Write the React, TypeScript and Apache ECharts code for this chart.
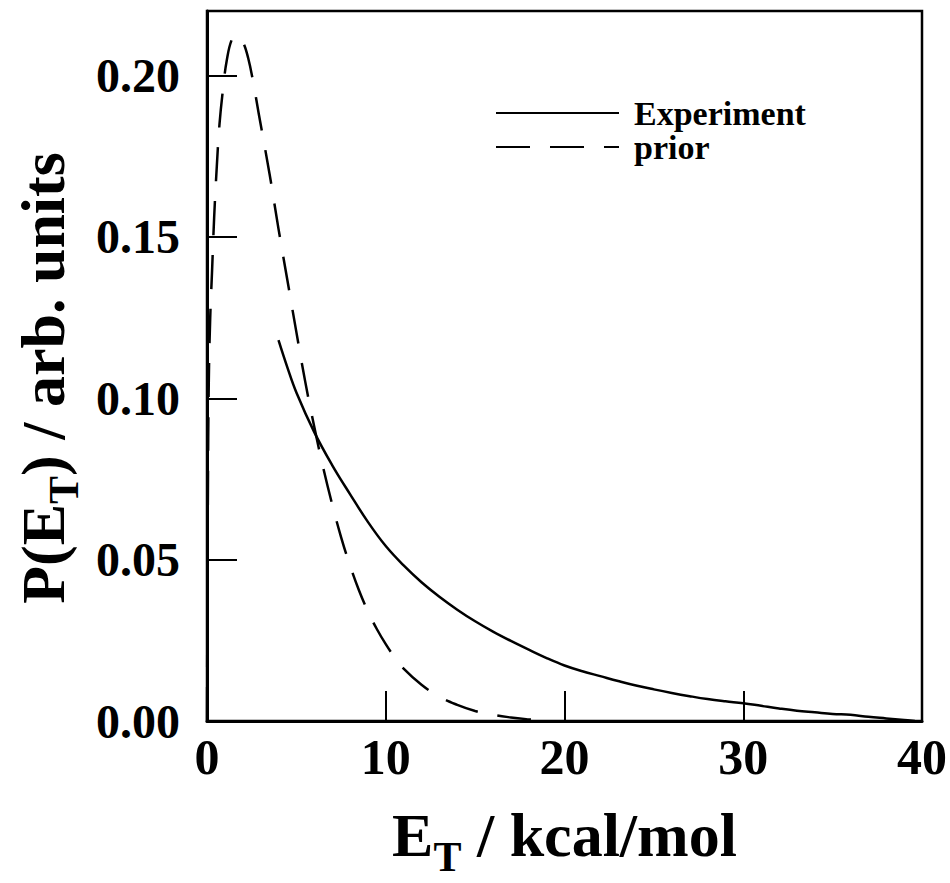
import React, { useEffect, useRef } from "react";
import * as echarts from "echarts";

// Experiment (solid curve)
const EXPERIMENT_X = [4.0, 4.5, 5.0, 6.0, 7.0, 8.0, 9.0, 10.0, 11.0, 12.0, 13.0, 14.0, 15.0, 16.0, 17.0, 18.0, 19.0, 20.0, 21.0, 22.0, 23.0, 24.0, 25.0, 26.0, 27.0, 28.0, 29.0, 30.0, 31.0, 32.0, 33.0, 34.0, 35.0, 36.0, 37.0, 38.0, 39.0, 39.6];
const EXPERIMENT_Y = [0.118, 0.1095, 0.1018, 0.0895, 0.0793, 0.0703, 0.0617, 0.0542, 0.0482, 0.043, 0.0385, 0.0345, 0.0309, 0.0277, 0.0248, 0.0221, 0.0195, 0.0172, 0.0154, 0.0139, 0.0124, 0.011, 0.0098, 0.0087, 0.0077, 0.0068, 0.0061, 0.0055, 0.0047, 0.0039, 0.0032, 0.0027, 0.0022, 0.0019, 0.0013, 0.0008, 0.0003, 0.0];

// prior (dashed curve)
const PRIOR_X = [0, 0.05, 0.1, 0.18, 0.28, 0.4, 0.55, 0.7, 0.9, 1.1, 1.4, 1.7, 2.0, 2.3, 2.6, 2.9, 3.5, 4.0, 4.5, 5.0, 5.5, 6.0, 6.5, 7.0, 7.5, 8.0, 8.5, 9.0, 9.5, 10.0, 10.5, 11.0, 12.0, 13.0, 14.0, 15.0, 16.0, 17.0, 18.0, 19.0];
const PRIOR_Y = [0, 0.07, 0.105, 0.125, 0.139, 0.156, 0.172, 0.185, 0.196, 0.2045, 0.2113, 0.2125, 0.2105, 0.2055, 0.1975, 0.188, 0.1695, 0.1525, 0.1365, 0.1205, 0.105, 0.0912, 0.0785, 0.0672, 0.057, 0.0482, 0.0405, 0.034, 0.0285, 0.0238, 0.0197, 0.0162, 0.0112, 0.0075, 0.005, 0.0031, 0.0019, 0.0011, 0.0005, 0.0];

const SERIES_NAMES = ["Experiment", "prior"];

const X_MIN = 0;
const X_MAX = 40;
const X_INTERVAL = 10;
const Y_MIN = 0;
const Y_MAX = 0.22;
const Y_INTERVAL = 0.05;

const FONT = "'Liberation Serif', 'Times New Roman', Times, serif";

function pairs(xs: number[], ys: number[]) {
  return xs.map((x, i) => [x, ys[i]]);
}

export default function App() {
  const ref = useRef<HTMLDivElement>(null);

  useEffect(() => {
    document.body.style.margin = "0";
    const chart = echarts.init(ref.current!, null, { renderer: "svg" });

    const titleMain = (size: number) => ({
      fontFamily: FONT,
      fontWeight: "bold",
      fontSize: size,
      lineHeight: size,
      color: "#000",
      verticalAlign: "top",
    });

    const option: any = {
      animation: false,
      backgroundColor: "#ffffff",
      grid: {
        left: 207,
        top: 11,
        width: 724,
        height: 725,
        show: true,
        borderColor: "#000",
        borderWidth: 2.5,
        backgroundColor: "transparent",
      },
      legend: {
        show: true,
        orient: "vertical",
        left: 495,
        top: 96,
        padding: 0,
        itemWidth: 123,
        itemHeight: 20,
        itemGap: 0,
        selectedMode: false,
        data: SERIES_NAMES,
        itemStyle: { opacity: 0 },
        textStyle: {
          fontFamily: FONT,
          fontWeight: "bold",
          fontSize: 34,
          lineHeight: 34,
          color: "#000",
          padding: [0, 0, 0, 10],
        },
      },
      xAxis: {
        type: "value",
        min: X_MIN,
        max: X_MAX,
        interval: X_INTERVAL,
        name: "{m|E}{s|T}{m| / kcal/mol}",
        nameLocation: "middle",
        nameGap: 83,
        nameTextStyle: {
          rich: {
            m: titleMain(62),
            s: {
              fontFamily: FONT,
              fontWeight: "bold",
              fontSize: 42,
              lineHeight: 42,
              color: "#000",
              verticalAlign: "top",
              padding: [32, 0, 0, 0],
            },
          },
        },
        axisLine: { show: true, lineStyle: { color: "#000", width: 3 } },
        axisTick: { show: true, inside: true, length: 30, lineStyle: { color: "#000", width: 2 } },
        axisLabel: {
          margin: 11,
          fontFamily: FONT,
          fontWeight: "bold",
          fontSize: 50,
          color: "#000",
        },
        splitLine: { show: false },
      },
      yAxis: {
        type: "value",
        min: Y_MIN,
        max: Y_MAX,
        interval: Y_INTERVAL,
        name: "{m|P(E}{s|T}{e|) / arb. units}",
        nameLocation: "middle",
        nameRotate: 90,
        nameGap: 132,
        nameTextStyle: {
          rich: {
            m: titleMain(62),
            e: { ...titleMain(62), padding: [0, 24, 0, 0] },
            s: {
              fontFamily: FONT,
              fontWeight: "bold",
              fontSize: 42,
              lineHeight: 42,
              color: "#000",
              verticalAlign: "top",
              padding: [31, 0, 0, 0],
            },
          },
        },
        axisLine: { show: true, lineStyle: { color: "#000", width: 3 } },
        axisTick: { show: true, inside: true, length: 30, lineStyle: { color: "#000", width: 2 } },
        axisLabel: {
          margin: 27,
          fontFamily: FONT,
          fontWeight: "bold",
          fontSize: 48,
          color: "#000",
          formatter: (v: number) => {
            const k = v / Y_INTERVAL;
            return Math.abs(k - Math.round(k)) < 1e-6 ? v.toFixed(2) : "";
          },
        },
        splitLine: { show: false },
      },
      series: [
        {
          name: SERIES_NAMES[0],
          type: "line",
          data: pairs(EXPERIMENT_X, EXPERIMENT_Y),
          symbol: "none",
          showSymbol: false,
          smooth: 0.4,
          lineStyle: { color: "#000", width: 2.5, type: "solid" },
          itemStyle: { color: "#000" },
        },
        {
          name: SERIES_NAMES[1],
          type: "line",
          data: pairs(PRIOR_X, PRIOR_Y),
          symbol: "none",
          showSymbol: false,
          smooth: 0.4,
          lineStyle: { color: "#000", width: 2.5, type: [34, 20] },
          itemStyle: { color: "#000" },
        },
      ],
    };

    chart.setOption(option);
    return () => chart.dispose();
  }, []);

  return <div ref={ref} style={{ width: 950, height: 883 }} />;
}
